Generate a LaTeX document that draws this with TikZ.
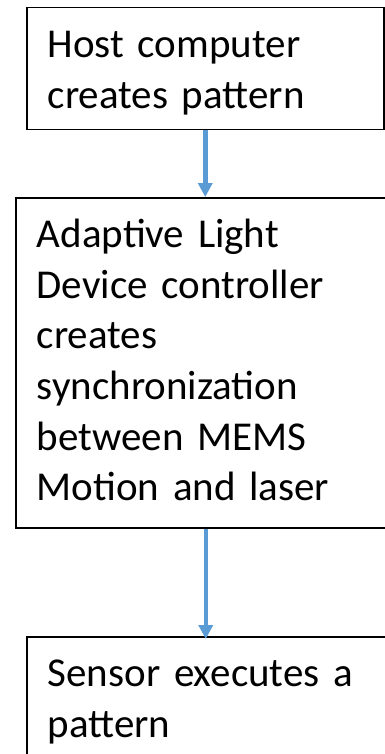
\documentclass[tikz,border=0pt]{standalone}
\usepackage{fontspec}
\setmainfont{Carlito}
\usepackage{tikz}
\usetikzlibrary{arrows.meta}
\definecolor{FlowBlue}{HTML}{5B9BD5}

\begin{document}
\begin{tikzpicture}[x=1pt, y=-1pt, font=\fontsize{41}{50.6}\selectfont,
  stage/.style={draw, line width=1.5pt, anchor=north west, align=left,
    inner xsep=21pt, inner ysep=22pt, text height=28pt},
  flow/.style={FlowBlue, line width=4.5pt, -{Triangle[width=14pt, length=14pt]}}]
  \useasboundingbox (0,0) rectangle (385,754);
  \clip (0,0) rectangle (385,754);
  % the three stages
  \node[stage, text width=315pt, text depth=50pt] (host) at (26,7)
    {Host computer\\creates pattern};
  \node[stage, text width=338pt, text depth=258pt] (alc) at (15,197)
    {Adaptive Light\\Device controller\\creates\\synchronization\\between MEMS\\Motion and laser};
  \node[stage, text width=328pt, text depth=78pt] (sensor) at (26,636)
    {Sensor executes a\\pattern};
  % flow
  \draw[flow] (host.south) -- (host.south |- alc.north);
  \draw[flow, shorten >=-3pt] (alc.south) -- (alc.south |- sensor.north);
\end{tikzpicture}
\end{document}
